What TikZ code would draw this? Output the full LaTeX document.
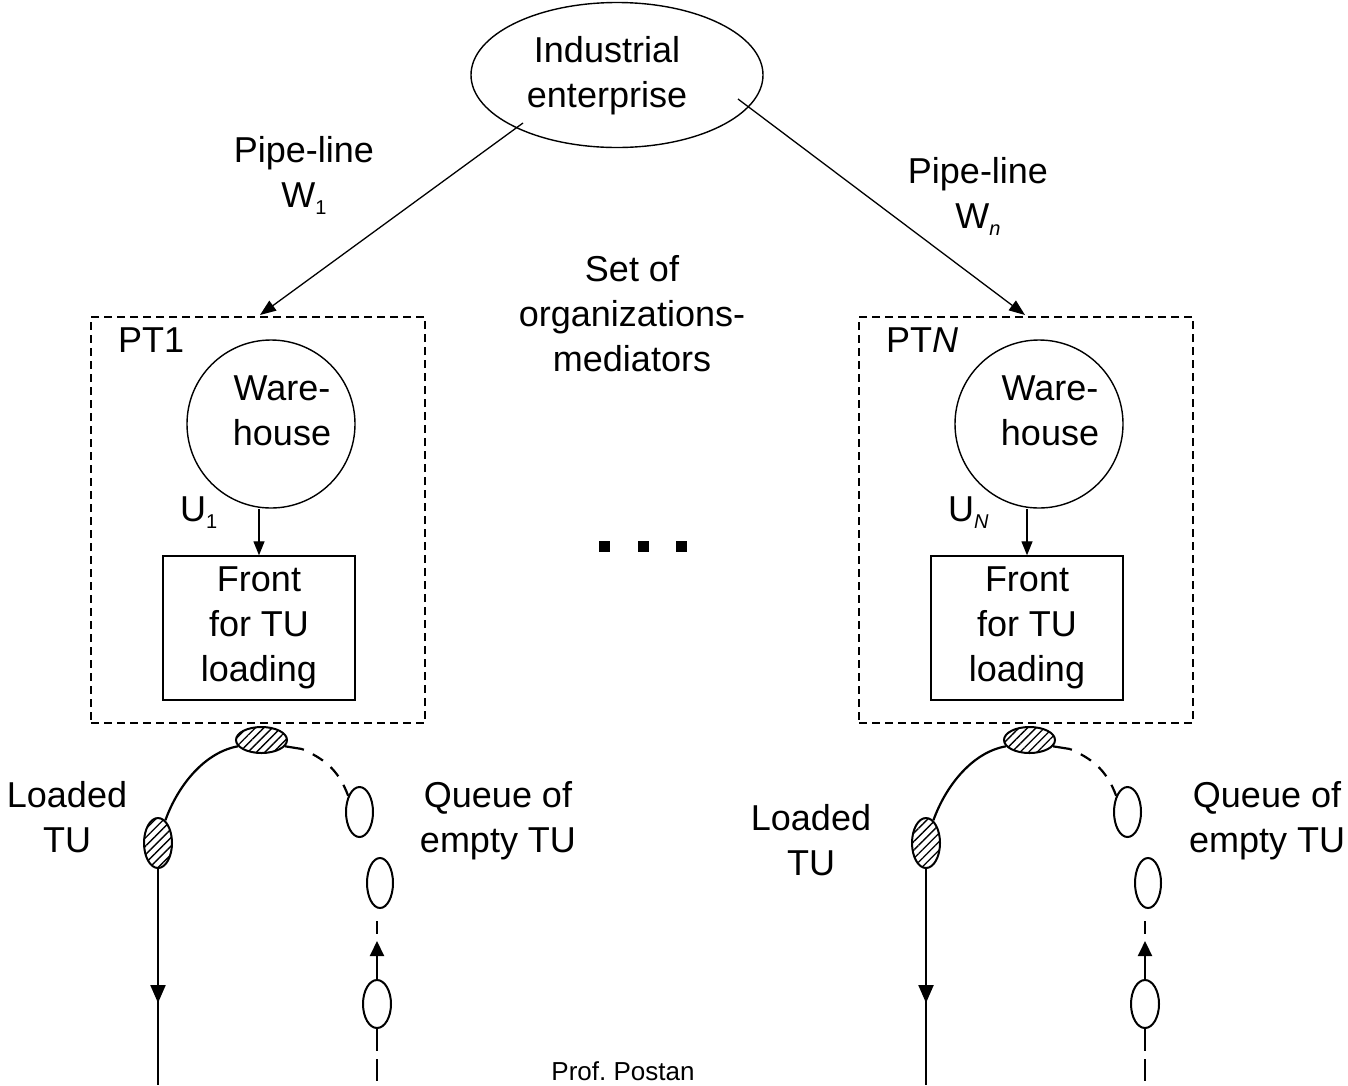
\documentclass[tikz,border=0pt]{standalone}
\usepackage{fontspec}
\setmainfont{Liberation Sans}
\usetikzlibrary{arrows.meta,shapes.geometric,patterns.meta}
\newcommand\sbs[1]{\raisebox{-7pt}{\fontsize{20}{20}\selectfont #1}}
\tikzset{
  txt/.style={font=\fontsize{36}{45}\selectfont, align=center, inner sep=0pt},
  dbox/.style={draw, line width=1.5pt, dash pattern=on 8pt off 5pt, minimum width=334pt, minimum height=406pt, inner sep=0pt},
  whc/.style={draw, circle, line width=1.4pt, minimum size=168pt, inner sep=0pt},
  frontbox/.style={draw, line width=1.4pt, minimum width=192pt, minimum height=144pt, inner sep=0pt, font=\fontsize{36}{45}\selectfont, align=center},
  thinarrow/.style={line width=1.3pt, -{Triangle[length=16pt,width=12pt]}},
  smallarrow/.style={line width=1.3pt, -{Triangle[length=14pt,width=11pt]}},
  bot/.style={line width=2.2pt},
  hatch/.style={draw, ellipse, line width=2pt, inner sep=0pt, pattern={Lines[angle=45,distance=6pt,line width=1.3pt]}},
  emp/.style={draw, ellipse, line width=2pt, inner sep=0pt, fill=white},
  sq/.style={fill=black, minimum size=11pt, inner sep=0pt},
}
\newcommand\ptgroup[4]{%
\begin{scope}[xshift=#1]
  \node[dbox] (box#2) at (258,520) {};
  \node[txt, anchor=base west] (pt#2) at (118,352) {#3};
  \node[whc] (wh#2) at (271,424) {};
  \node[txt, anchor=base] (wht#2) at (282,445) {Ware-\\house};
  \node[frontbox] (fr#2) at (259,628) {Front\\for TU\\loading};
  \draw[smallarrow] (fr#2.north |- wh#2.south) -- (fr#2.north);
  \node[txt, anchor=base west] (u#2) at (180,521) {#4};
  % transport units
  \node[hatch, minimum width=51pt, minimum height=26pt] (ht#2) at (261.5,740) {};
  \node[hatch, minimum width=28pt, minimum height=50pt] (hl#2) at (158,843) {};
  \node[emp, minimum width=27pt, minimum height=50pt] (ea#2) at (359.5,812) {};
  \node[emp, minimum width=26pt, minimum height=50pt] (eb#2) at (380,883) {};
  \node[emp, minimum width=28pt, minimum height=48pt] (ec#2) at (377,1004) {};
  \coordinate (q#2) at (302,749);
  \coordinate (be#2) at (377,1085);
  \draw[bot] (hl#2.72) .. controls (178,785) and (205,752) .. (ht#2.195);
  \draw[bot] (ht#2.345) -- (q#2);
  \draw[bot, dash pattern=on 12pt off 10pt, dash phase=10pt] (q#2) .. controls (322,758) and (338,768) .. (ea#2.125);
  \draw[bot] (hl#2.south) -- (hl#2.south |- be#2);
  \draw[bot, -{Triangle[length=18pt,width=15pt]}] (hl#2.south) -- ++(0,134);
  \draw[bot, dash pattern=on 13pt off 12pt, dash phase=13pt] (ec#2.north |- eb#2.south) -- (ec#2.north);
  \draw[bot, -{Triangle[length=15pt,width=14pt]}] (ec#2.north) -- ++(0,-38);
  \draw[bot, dash pattern=on 22pt off 8pt] (ec#2.south) -- (be#2);
\end{scope}}
\begin{document}
\begin{tikzpicture}[x=1pt, y=-1pt]
  \useasboundingbox (0,0) rectangle (1348,1085);
  \fill[white] (0,0) rectangle (1348,1085);
  % enterprise
  \node[draw, ellipse, line width=1.4pt, minimum width=292pt, minimum height=145pt, inner sep=0pt] (ent) at (617,75) {};
  \node[txt, anchor=base] (entt) at (607,107) {Industrial\\enterprise};
  % groups
  \ptgroup{0pt}{1}{PT1}{U\sbs{1}}
  \ptgroup{768pt}{2}{PT\textit{N}}{U\sbs{\itshape N}}
  % pipe-lines
  \coordinate (s1) at (523,123);
  \coordinate (t1) at (260,315);
  \coordinate (s2) at (738,99);
  \coordinate (t2) at (1025,315);
  \draw[thinarrow] (s1) -- (t1);
  \draw[thinarrow] (s2) -- (t2);
  \node[txt, anchor=base] (pl1) at (304,207) {Pipe-line\\W\sbs{1}};
  \node[txt, anchor=base] (pl2) at (978,228) {Pipe-line\\W\sbs{\itshape n}};
  \node[txt, anchor=base] (set) at (632,371) {Set of\\organizations-\\mediators};
  % dots
  \node[sq] (dot1) at (604.5,546.5) {};
  \node[sq] (dot2) at (643.5,546.5) {};
  \node[sq] (dot3) at (681.5,546.5) {};
  % bottom labels
  \node[txt, anchor=base] (ld1) at (67,852) {Loaded\\TU};
  \node[txt, anchor=base] (qu1) at (498,852) {Queue of\\empty TU};
  \node[txt, anchor=base] (ld2) at (811,875) {Loaded\\TU};
  \node[txt, anchor=base] (qu2) at (1267,852) {Queue of\\empty TU};
  \node[font=\fontsize{26}{30}\selectfont, anchor=base, inner sep=0pt] (prof) at (623,1080) {Prof.\ Postan};
\end{tikzpicture}
\end{document}
